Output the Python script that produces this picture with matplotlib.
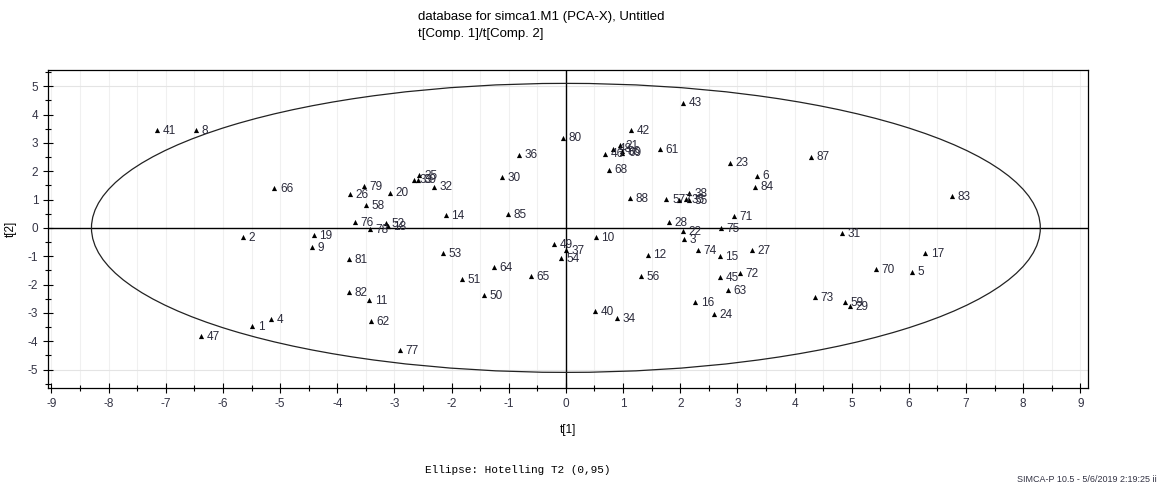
import numpy as np
import matplotlib.pyplot as plt
from matplotlib.patches import Ellipse
from matplotlib.ticker import MultipleLocator

# Score values t[1], t[2] per observation
obs = [41, 8, 66, 2, 19, 9, 1, 4, 47, 79, 26, 20, 58, 25, 33, 39, 32, 14,
       76, 78, 52, 18, 53, 81, 82, 11, 62, 77, 51, 50, 64, 65, 36, 30, 85,
       80, 49, 37, 54, 10, 40, 34, 12, 56, 42, 21, 48, 86, 46, 69, 68, 61,
       43, 23, 6, 84, 87, 83, 88, 57, 7, 35, 55, 38, 28, 71, 75, 22, 3, 74,
       15, 27, 31, 17, 70, 5, 45, 72, 63, 16, 24, 73, 59, 29]
t1 = [-7.15, -6.47, -5.10, -5.65, -4.41, -4.44, -5.49, -5.16, -6.38, -3.53,
      -3.78, -3.08, -3.50, -2.57, -2.65, -2.58, -2.31, -2.10, -3.69, -3.43,
      -3.15, -3.12, -2.15, -3.79, -3.79, -3.44, -3.41, -2.90, -1.82, -1.43,
      -1.26, -0.61, -0.82, -1.12, -1.01, -0.05, -0.21, 0.00, -0.09, 0.52,
      0.51, 0.89, 1.43, 1.31, 1.14, 0.95, 0.82, 0.98, 0.68, 0.99, 0.75, 1.64,
      2.05, 2.87, 3.34, 3.30, 4.28, 6.75, 1.12, 1.76, 1.98, 2.10, 2.16, 2.16,
      1.80, 2.94, 2.71, 2.05, 2.06, 2.31, 2.69, 3.25, 4.83, 6.29, 5.42, 6.05,
      2.69, 3.04, 2.83, 2.26, 2.59, 4.35, 4.88, 4.97]
t2 = [3.46, 3.46, 1.41, -0.32, -0.25, -0.67, -3.46, -3.22, -3.82, 1.48,
      1.20, 1.24, 0.81, 1.87, 1.70, 1.70, 1.45, 0.46, 0.21, -0.04,
      0.16, 0.06, -0.88, -1.10, -2.26, -2.54, -3.29, -4.31, -1.80, -2.37,
      -1.38, -1.70, 2.58, 1.80, 0.49, 3.18, -0.57, -0.78, -1.06, -0.32,
      -2.93, -3.18, -0.95, -1.70, 3.46, 2.93, 2.80, 2.70, 2.62, 2.66, 2.05, 2.79,
      4.42, 2.30, 1.84, 1.45, 2.51, 1.13, 1.06, 1.02, 1.00, 1.02, 0.98, 1.22,
      0.21, 0.42, 0.00, -0.11, -0.39, -0.78, -0.99, -0.78, -0.18, -0.88, -1.45, -1.55,
      -1.73, -1.59, -2.19, -2.61, -3.04, -2.44, -2.61, -2.76]

# Hotelling T2 (0.95) ellipse semi-axes
ell_a = 8.3
ell_b = 5.1

plt.rcParams['font.family'] = ['Liberation Sans', 'DejaVu Sans']
plt.rcParams['axes.unicode_minus'] = False

fig = plt.figure(figsize=(11.63, 4.88), dpi=100)
ax = fig.add_axes([0.0413, 0.205, 0.894, 0.652])

ax.set_xlim(-9.06, 9.13)
ax.set_ylim(-5.65, 5.58)

# light grid
for gx in np.arange(-9, 9.5, 0.5):
    ax.axvline(gx, color='#f0f0f0', lw=0.8, zorder=0)
for gy in [-5, 5]:
    ax.axhline(gy, color='#e4e4e4', lw=0.8, zorder=0)

ax.axhline(0, color='black', lw=1.0, zorder=1)
ax.axvline(0, color='black', lw=1.0, zorder=1)

ax.add_patch(Ellipse((0, 0), 2 * ell_a, 2 * ell_b, fill=False,
                     edgecolor='#222222', lw=0.9, zorder=2))

ax.scatter(t1, t2, marker='^', s=14, color='black', zorder=3, linewidths=0)
for n, x, y in zip(obs, t1, t2):
    ax.annotate(str(n), (x, y), xytext=(4, -0.5), textcoords='offset points',
                fontsize=8.5, color='#2a2a3a', va='center', ha='left', zorder=4)

ax.xaxis.set_major_locator(MultipleLocator(1))
ax.xaxis.set_minor_locator(MultipleLocator(0.5))
ax.yaxis.set_major_locator(MultipleLocator(1))
ax.yaxis.set_minor_locator(MultipleLocator(0.5))
ax.tick_params(which='both', direction='inout', labelsize=8.5, colors='black')
ax.tick_params(which='major', length=7, width=0.8)
ax.tick_params(which='minor', length=5, width=0.8)
ax.tick_params(axis='both', labelcolor='#333344')
for sp in ax.spines.values():
    sp.set_linewidth(0.9)

ax.set_xlabel('t[1]', fontsize=8.5, labelpad=10)
ax.set_ylabel('t[2]', fontsize=8.5, labelpad=8)

fig.text(418 / 1163, 1 - 17 / 488, 'database for simca1.M1 (PCA-X), Untitled',
         fontsize=9.5, ha='left', va='center')
fig.text(418 / 1163, 1 - 34 / 488, 't[Comp. 1]/t[Comp. 2]',
         fontsize=9.5, ha='left', va='center')
fig.text(425 / 1163, 1 - 470 / 488, 'Ellipse: Hotelling T2 (0,95)',
         fontsize=8, family='Liberation Mono', ha='left', va='center')
fig.text(1157 / 1163, 1 - 479 / 488, 'SIMCA-P 10.5 - 5/6/2019 2:19:25 ii',
         fontsize=6.5, ha='right', va='center', color='#333344')

fig.savefig('out.png', dpi=100)
